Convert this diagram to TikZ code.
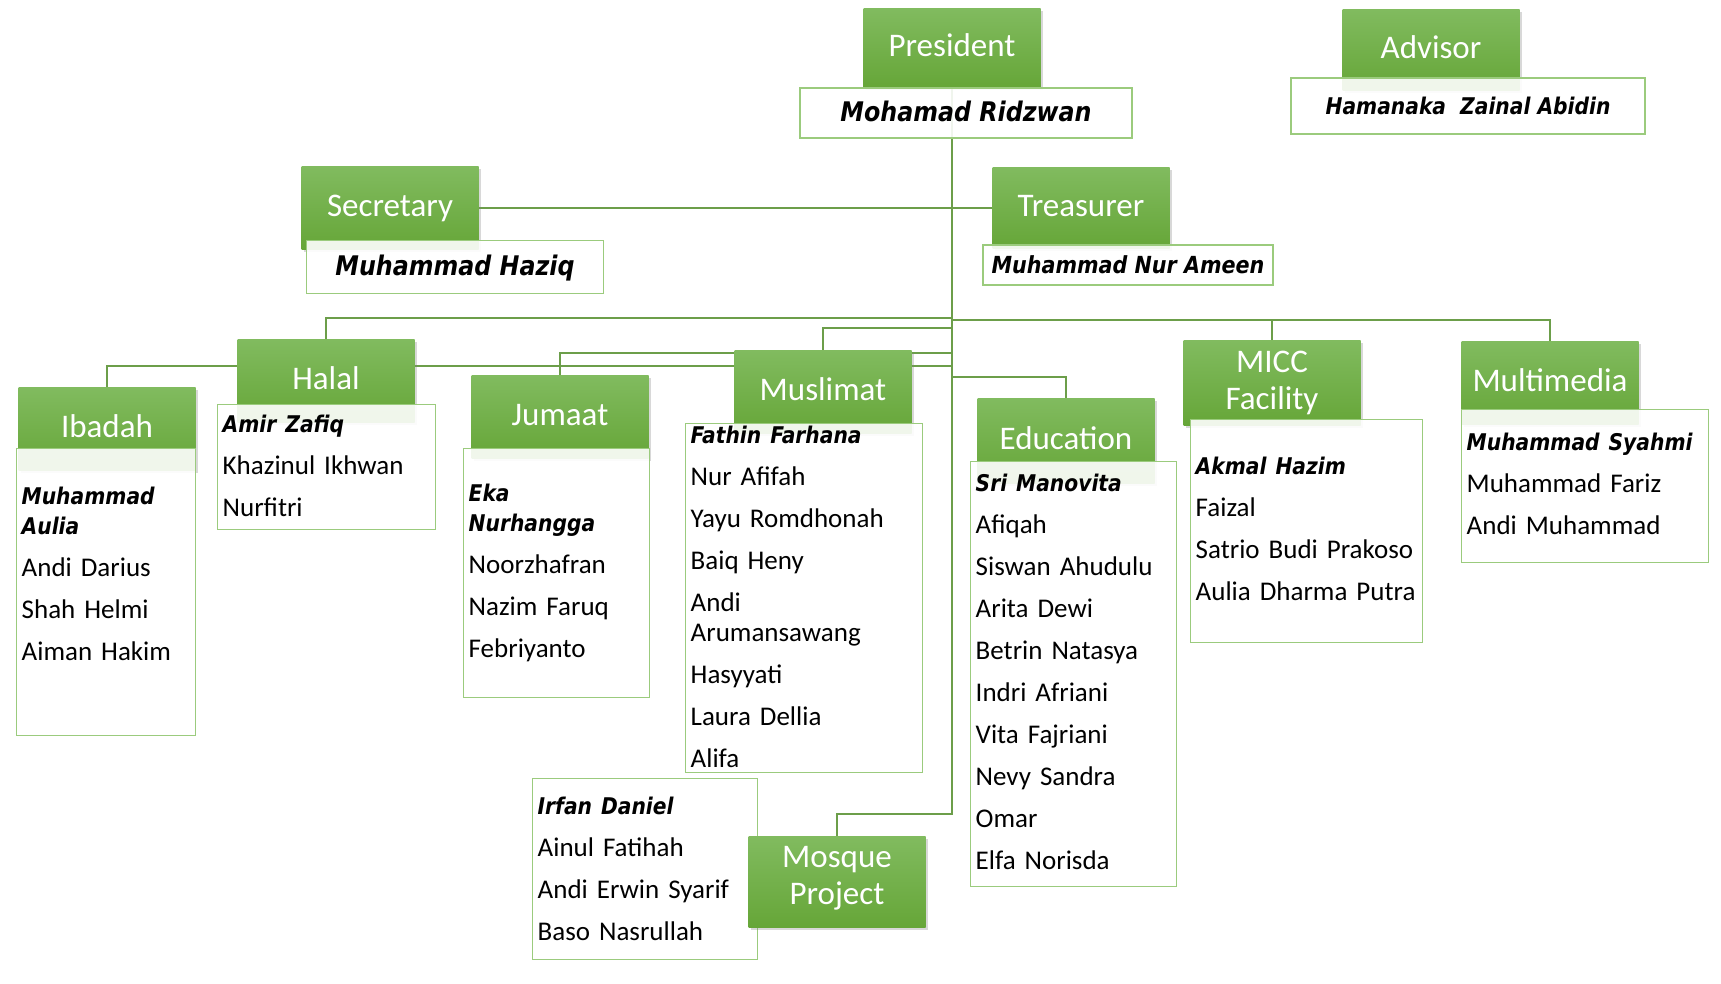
\documentclass[tikz,border=0pt]{standalone}
\usepackage{fontspec}
\setmainfont{Carlito}
\newfontfamily\leadfont{DejaVu Sans}[FakeStretch=0.88]
\usetikzlibrary{shadows,backgrounds}

\definecolor{hdtop}{RGB}{129,187,95}
\definecolor{hdbot}{RGB}{102,166,56}
\definecolor{boxline}{RGB}{155,203,125}
\definecolor{linkgreen}{RGB}{108,158,74}

\newcommand{\chief}[1]{{\leadfont\bfseries\itshape\fontsize{23}{30}\selectfont #1}}
\newcommand{\nextname}{\\[12pt]}

\begin{document}
\begin{tikzpicture}[x=1pt,y=-1pt,
  head/.style={anchor=north,minimum width=177pt,minimum height=83pt,inner sep=0pt,
    top color=hdtop,bottom color=hdbot,text=white,align=center,
    font=\fontsize{33}{37}\selectfont,text height=25pt,text depth=7pt,
    drop shadow={shadow xshift=2pt,shadow yshift=-3pt,opacity=0.3}},
  topname/.style={draw=boxline,line width=1.4pt,fill=white,fill opacity=0.9,text opacity=1,
    inner sep=0pt,text height=22pt,text depth=5pt,
    font=\leadfont\bfseries\itshape\fontsize{#1}{30}\selectfont},
  topname/.default=27,
  namebox/.style={anchor=north west,draw=boxline,line width=1.4pt,fill=white,fill opacity=0.9,
    text opacity=1,inner xsep=5pt,inner ysep=0pt,align=left,font=\fontsize{27}{30}\selectfont},
  link/.style={draw=linkgreen,line width=2pt}]

  % president, advisor, secretary, treasurer
  \node[head,minimum height=79pt] (pres) at (952,8) {President};
  \node[topname,minimum width=332pt,minimum height=50pt] (presn) at (966,113) {Mohamad Ridzwan};
  \node[head,minimum height=81pt] (adv) at (1431,9) {Advisor};
  \node[topname=23,minimum width=354pt,minimum height=56pt] (advn) at (1468,106) {Hamanaka\ \ Zainal Abidin};
  \node[head] (sec) at (390,166) {Secretary};
  \node[topname,minimum width=297pt,minimum height=53pt] (secn) at (455,267) {Muhammad Haziq};
  \node[head,minimum height=81pt] (tre) at (1081,167) {Treasurer};
  \node[topname=23.5,minimum width=290pt,minimum height=40pt] (tren) at (1128,265) {Muhammad Nur Ameen};

  % departments
  \node[head] (iba) at (107,387) {Ibadah};
  \node[namebox,text width=169pt,text height=56pt,text depth=231pt] (iban) at (16,448)
    {\chief{Muhammad\\Aulia}\nextname Andi Darius\nextname Shah Helmi\nextname Aiman Hakim};
  \node[head] (hal) at (326,339) {Halal};
  \node[namebox,text width=208pt,text height=28pt,text depth=97pt] (haln) at (217,404)
    {\chief{Amir Zafiq}\nextname Khazinul Ikhwan\nextname Nurfitri};
  \node[head] (jum) at (560,375) {Jumaat};
  \node[namebox,text width=176pt,text height=53pt,text depth=196pt] (jumn) at (463,448)
    {\chief{Eka\\Nurhangga}\nextname Noorzhafran\nextname Nazim Faruq\nextname Febriyanto};
  \node[head] (mus) at (823,350) {Muslimat};
  \node[namebox,text width=227pt,text height=20pt,text depth=329pt] (musn) at (685,423)
    {\chief{Fathin Farhana}\nextname Nur Afifah\nextname Yayu Romdhonah\nextname Baiq Heny\nextname
     Andi\\Arumansawang\nextname Hasyyati\nextname Laura Dellia\nextname Alifa};
  \node[head,minimum height=85pt] (edu) at (1066,398) {Education};
  \node[namebox,text width=196pt,text height=30pt,text depth=395pt] (edun) at (970,461)
    {\chief{Sri Manovita}\nextname Afiqah\nextname Siswan Ahudulu\nextname Arita Dewi\nextname
     Betrin Natasya\nextname Indri Afriani\nextname Vita Fajriani\nextname Nevy Sandra\nextname
     Omar\nextname Elfa Norisda};
  \node[head,minimum height=85pt,text height=62pt,text depth=8pt] (micc) at (1272,340) {MICC\\Facility};
  \node[namebox,text width=222pt,text height=55pt,text depth=168pt] (miccn) at (1190,419)
    {\chief{Akmal Hazim}\nextname Faizal\nextname Satrio Budi Prakoso\nextname Aulia Dharma Putra};
  \node[head] (mm) at (1550,341) {Multimedia};
  \node[namebox,text width=237pt,text height=41pt,text depth=112pt] (mmn) at (1461,409)
    {\chief{Muhammad Syahmi}\nextname Muhammad Fariz\nextname Andi Muhammad};
  \node[namebox,text width=215pt,text height=36pt,text depth=145pt] (mosn) at (532,778)
    {\chief{Irfan Daniel}\nextname Ainul Fatihah\nextname Andi Erwin Syarif\nextname Baso Nasrullah};
  \node[head,minimum height=91pt,text height=53pt,text depth=8pt] (mos) at (837,836) {Mosque\\Project};

  % connectors
  \begin{scope}[on background layer]
    \fill[white] (0,0) rectangle (1721,983);
    \draw[link] (pres.south) |- (sec.east);
    \draw[link] (pres.south) |- (tre.west);
    \draw[link] (pres.south) |- ([yshift=21pt]hal.north) -- (hal.north);
    \draw[link] (pres.south) |- ([yshift=22pt]mus.north) -- (mus.north);
    \draw[link] (pres.south) |- ([yshift=22pt]jum.north) -- (jum.north);
    \draw[link] (pres.south) |- ([yshift=21pt]iba.north) -- (iba.north);
    \draw[link] (pres.south) |- ([yshift=21pt]edu.north) -- (edu.north);
    \draw[link] (pres.south) |- ([yshift=20pt]micc.north) -- (micc.north);
    \draw[link] (pres.south) |- ([yshift=21pt]mm.north) -- (mm.north);
    \draw[link] (pres.south) |- ([yshift=22pt]mos.north) -- (mos.north);
  \end{scope}
  \useasboundingbox (0,0) rectangle (1721,983);
\end{tikzpicture}
\end{document}
